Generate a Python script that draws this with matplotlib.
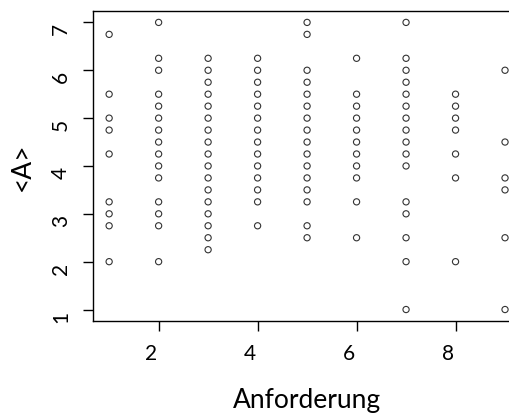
import matplotlib
matplotlib.use("Agg")
import matplotlib.pyplot as plt
import matplotlib.transforms as mtransforms

plt.rcParams["font.family"] = ["Lato", "DejaVu Sans"]

# Anforderung value -> observed <A> values
x1 = [6.75, 5.5, 5, 4.75, 4.25, 3.25, 3, 2.75, 2]
x2 = [7, 6.25, 6, 5.5, 5.25, 5, 4.75, 4.5, 4.25, 4, 3.75, 3.25, 3, 2.75, 2]
x3 = [6.25, 6, 5.75, 5.5, 5.25, 5, 4.75, 4.5, 4.25, 4, 3.75, 3.5, 3.25, 3,
      2.75, 2.5, 2.25]
x4 = [6.25, 6, 5.75, 5.5, 5.25, 5, 4.75, 4.5, 4.25, 4, 3.75, 3.5, 3.25, 2.75]
x5 = [7, 6.75, 6, 5.75, 5.5, 5.25, 5, 4.75, 4.5, 4.25, 4, 3.75, 3.5, 3.25,
      2.75, 2.5]
x6 = [6.25, 5.5, 5.25, 5, 4.75, 4.5, 4.25, 4, 3.75, 3.25, 2.5]
x7 = [7, 6.25, 6, 5.75, 5.5, 5.25, 5, 4.75, 4.5, 4.25, 4, 3.25, 3, 2.5, 2, 1]
x8 = [5.5, 5.25, 5, 4.75, 4.25, 3.75, 2]
x9 = [6, 4.5, 3.75, 3.5, 2.5, 1]
groups = [x1, x2, x3, x4, x5, x6, x7, x8, x9]

xs, ys = [], []
for i, vals in enumerate(groups, start=1):
    xs += [i] * len(vals)
    ys += vals

fig = plt.figure(figsize=(5.09, 4.14), dpi=100)
ax = fig.add_axes([0.1833, 0.2222, 0.840, 0.749])
ax.scatter(xs, ys, s=20, facecolors="none", edgecolors="#333333",
           linewidths=0.8)
ax.set_xlim(0.68, 9.32)
ax.set_ylim(0.76, 7.24)
ax.set_xticks([2, 4, 6, 8])
ax.set_yticks([1, 2, 3, 4, 5, 6, 7])
ax.tick_params(length=7, width=1, labelsize=15, pad=9)
for lab in ax.get_yticklabels():
    lab.set_rotation(90)
    lab.set_va("center")
    lab.set_transform(lab.get_transform() + mtransforms.ScaledTranslation(
        0, -0.06, fig.dpi_scale_trans))
for lab in ax.get_xticklabels():
    lab.set_transform(lab.get_transform() + mtransforms.ScaledTranslation(
        -0.08, 0, fig.dpi_scale_trans))
for s in ax.spines.values():
    s.set_linewidth(1)
ax.set_xlabel("Anforderung", fontsize=19, labelpad=17)
ax.set_ylabel("<A>", fontsize=19, labelpad=12)
fig.savefig("out.png", dpi=100)
